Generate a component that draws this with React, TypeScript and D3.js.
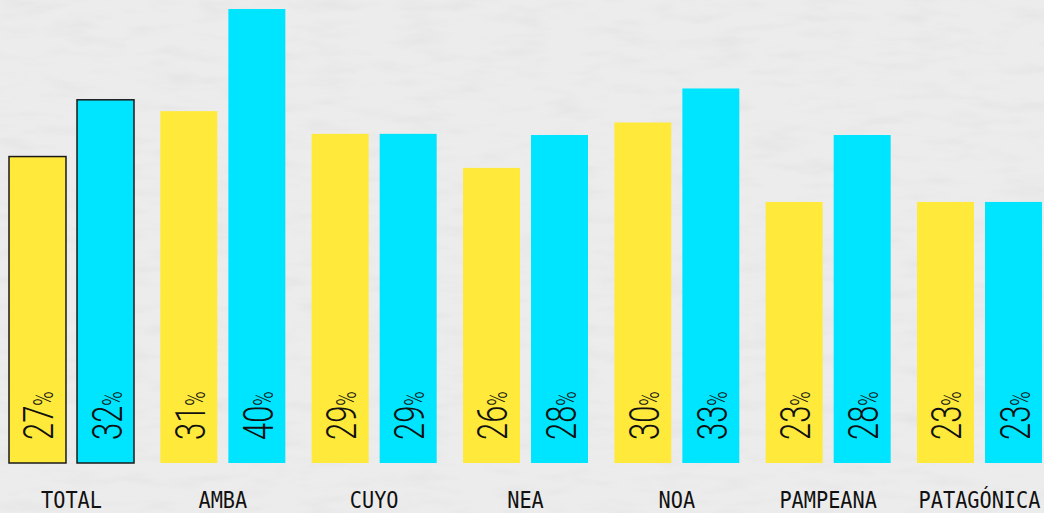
import React from "react";
import * as d3 from "d3";

const categories = ["TOTAL", "AMBA", "CUYO", "NEA", "NOA", "PAMPEANA", "PATAGÓNICA"];
const yellowValues = [27, 31, 29, 26, 30, 23, 23];
const cyanValues = [32, 40, 29, 28.9, 33, 28.9, 23];
const seriesKeys = ["yellow", "cyan"];
const seriesColors = ["#FFE93B", "#00E5FF"];
const outlinedCategory = "TOTAL";

const W = 1044;
const H = 513;
const baseY = 463;
const topY = 9;

export default function App() {
  const x0 = d3.scaleBand<string>().domain(categories).range([9, 1042]).paddingInner(0.174).paddingOuter(0);
  const x1 = d3.scaleBand<string>().domain(seriesKeys).range([0, x0.bandwidth()]).paddingInner(0.162).paddingOuter(0);
  const y = d3.scaleLinear().domain([0, 40]).range([baseY, topY]);
  const color = d3.scaleOrdinal<string, string>().domain(seriesKeys).range(seriesColors);
  const values: Record<string, number[]> = { yellow: yellowValues, cyan: cyanValues };

  return (
    <svg width={W} height={H} style={{ position: "absolute", left: 0, top: 0, display: "block" }}>
      <defs>
        <filter id="tex" x="0" y="0" width="100%" height="100%">
          <feTurbulence type="fractalNoise" baseFrequency="0.02 0.08" numOctaves="3" seed="4" result="n" />
          <feColorMatrix type="matrix" values="0 0 0 0 0.55  0 0 0 0 0.55  0 0 0 0 0.55  0 0 0 -1.4 0.75" />
        </filter>
      </defs>
      <rect x={0} y={0} width={W} height={H} fill="#ececec" />
      <rect x={0} y={0} width={W} height={H} filter="url(#tex)" opacity={0.25} />
      {categories.map((cat, i) => (
        <g key={cat} transform={`translate(${x0(cat)},0)`}>
          {seriesKeys.map((k) => {
            const v = values[k][i];
            const bx = x1(k)!;
            const bw = x1.bandwidth();
            const cx = bx + bw / 2;
            const ty = baseY - 23;
            return (
              <g key={k}>
                <rect
                  x={bx}
                  y={y(v)}
                  width={bw}
                  height={baseY - y(v)}
                  fill={color(k)}
                  stroke={cat === outlinedCategory ? "#1a1a1a" : "none"}
                  strokeWidth={cat === outlinedCategory ? 1.5 : 0}
                />
                <text
                  transform={`translate(${cx + 16},${ty}) rotate(-90) scale(0.72,1)`}
                  fontFamily="Roboto, sans-serif"
                  fontWeight={300}
                  fill="#111"
                >
                  <tspan fontSize={43}>{Math.floor(v)}</tspan>
                  <tspan fontSize={27}>%</tspan>
                </text>
              </g>
            );
          })}
          <text
            transform={`translate(${x0.bandwidth() / 2},508) scale(0.88,1)`}
            textAnchor="middle"
            fontFamily="'DejaVu Sans Mono', monospace"
            fontSize={23}
            fill="#111"
          >
            {cat}
          </text>
        </g>
      ))}
    </svg>
  );
}
